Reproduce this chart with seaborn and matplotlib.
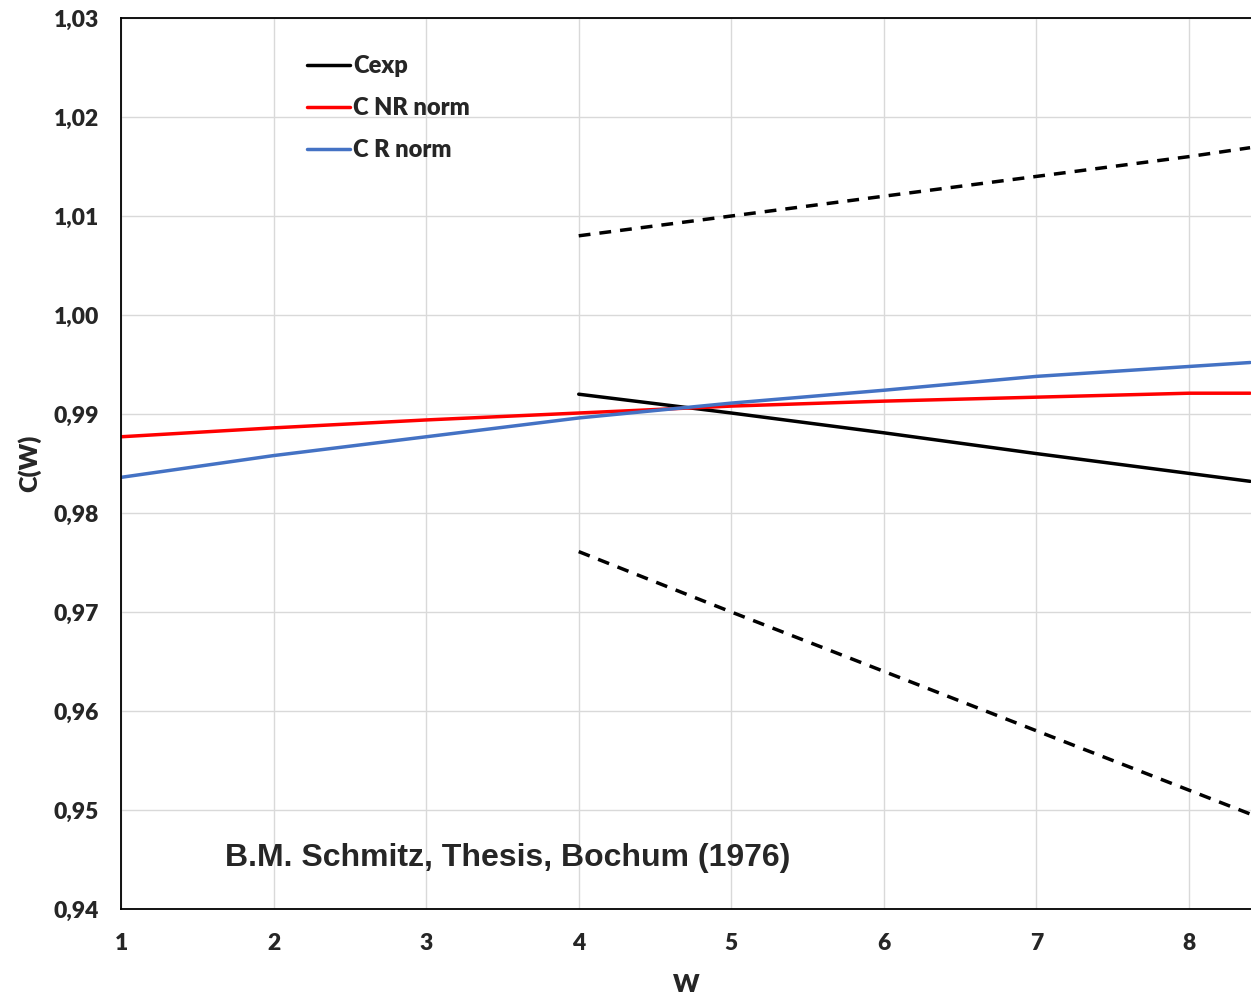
import matplotlib
matplotlib.use("Agg")
import matplotlib.pyplot as plt
import seaborn as sns
import pandas as pd

# Sample points along W
w_full = [1, 2, 3, 4, 5, 6, 7, 8, 8.4]
c_nr_norm = [0.9877, 0.9886, 0.9894, 0.9901, 0.9908, 0.9913, 0.9917, 0.9921, 0.9921]
c_r_norm = [0.9836, 0.9858, 0.9877, 0.9896, 0.9911, 0.9924, 0.9938, 0.9948, 0.9952]

w_exp = [4, 5, 6, 7, 8, 8.4]
c_exp = [0.9920, 0.9901, 0.9881, 0.9860, 0.9840, 0.9832]
c_exp_upper = [1.0080, 1.0100, 1.0120, 1.0140, 1.0160, 1.0169]
c_exp_lower = [0.9761, 0.9700, 0.9640, 0.9580, 0.9520, 0.9496]

y_ticks = [0.94, 0.95, 0.96, 0.97, 0.98, 0.99, 1.00, 1.01, 1.02, 1.03]
x_ticks = [1, 2, 3, 4, 5, 6, 7, 8]

sns.set_style("whitegrid")
plt.rcParams['font.family'] = ['Lato', 'DejaVu Sans']

fig = plt.figure(figsize=(12.51, 9.97), dpi=100)
ax = fig.add_axes([121 / 1251, 1 - 909 / 997, 1 - 121 / 1251, (909 - 18) / 997])

df_full = pd.DataFrame({"W": w_full, "nr": c_nr_norm, "r": c_r_norm})
df_exp = pd.DataFrame({"W": w_exp, "c": c_exp, "up": c_exp_upper, "lo": c_exp_lower})

lw = 2.5
sns.lineplot(data=df_exp, x="W", y="c", ax=ax, color="black", lw=lw, label="Cexp")
sns.lineplot(data=df_full, x="W", y="nr", ax=ax, color="#ff0000", lw=lw, label="C NR norm")
sns.lineplot(data=df_full, x="W", y="r", ax=ax, color="#4472c4", lw=lw, label="C R norm")
sns.lineplot(data=df_exp, x="W", y="up", ax=ax, color="black", lw=lw)
sns.lineplot(data=df_exp, x="W", y="lo", ax=ax, color="black", lw=lw)
for ln in ax.lines[-2:]:
    ln.set_dashes((3.4, 2.6))

ax.set_xlim(1, 8.406)
ax.set_ylim(0.94, 1.03)
ax.set_xticks(x_ticks)
ax.set_yticks(y_ticks)
ax.set_xticklabels([str(v) for v in x_ticks], fontsize=16.5, fontweight="heavy")
ax.set_yticklabels([f"{v:.2f}".replace(".", ",") for v in y_ticks], fontsize=16.5, fontweight="heavy")
ax.tick_params(axis="both", length=0)
ax.tick_params(axis="x", pad=17)
ax.tick_params(axis="y", pad=16)

ax.grid(True, color="#d9d9d9", lw=1)
for side in ["left", "bottom", "top"]:
    ax.spines[side].set_visible(True)
    ax.spines[side].set_color("black")
    ax.spines[side].set_linewidth(1.3)
ax.spines["right"].set_visible(False)

ax.set_xlabel("W", fontsize=18, fontweight="heavy", labelpad=15)
ax.set_ylabel("C(W)", fontsize=18, fontweight="heavy", labelpad=9)

leg = ax.legend(loc="upper left", bbox_to_anchor=(0.146, 0.982), frameon=False,
                prop={"family": "Lato", "weight": "heavy", "size": 17},
                handlelength=1.8, handletextpad=0.15, labelspacing=0.85)

ax.text(1.68, 0.9452, "B.M. Schmitz, Thesis, Bochum (1976)", fontsize=23,
        fontweight="bold", family="Liberation Sans", va="center", ha="left")

fig.savefig("out.png", dpi=100)
